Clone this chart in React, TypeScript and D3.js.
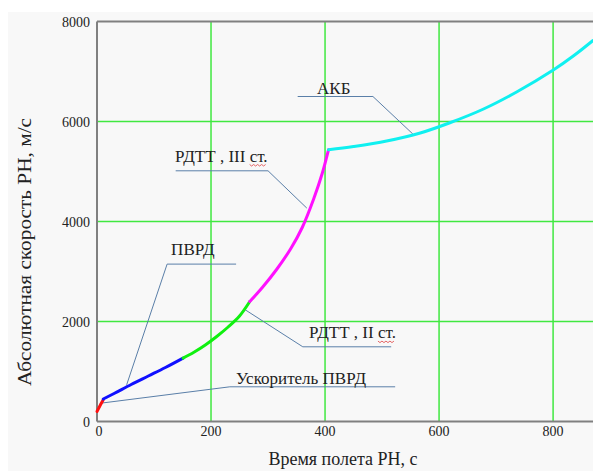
import React, { useEffect, useRef, useState } from 'react';
import * as d3 from 'd3';

// flight segments: time (s) and absolute velocity (m/s)
const redT = [0, 5, 11];
const redV = [200, 310, 434];
const blueT = [11, 30, 60, 90, 120, 151];
const blueV = [450, 560, 740, 910, 1080, 1268];
const greenT = [151, 170, 190, 210, 230, 250, 268];
const greenV = [1268, 1385, 1530, 1700, 1890, 2110, 2400];
const magentaT = [268, 290, 315, 340, 360, 380, 395, 406];
const magentaV = [2400, 2680, 3040, 3460, 3880, 4450, 4960, 5434];
const cyanT = [406, 450, 508, 567, 619, 678, 736, 801, 836, 870];
const cyanV = [5434, 5500, 5610, 5770, 5975, 6250, 6590, 7034, 7314, 7620];

const xTicks = [0, 200, 400, 600, 800];
const yTicks = [0, 2000, 4000, 6000, 8000];

// callouts: label, label anchor [t, v], leader polyline in [t, v]
const calloutLabels = ['АКБ', 'РДТТ , III ', 'ПВРД', 'Ускоритель ПВРД', 'РДТТ , II '];
const calloutTail = ['', 'ст.', '', '', 'ст.'];
const calloutText = [[386, 6554], [137, 5200], [130, 3334], [244, 754], [372, 1668]];
const calloutLines = [
  [[352, 6500], [484, 6500], [554, 5750]],
  [[138, 5014], [300, 5014], [368, 4268]],
  [[244, 3148], [123, 3148], [52, 734]],
  [[523, 694], [233, 694], [5, 364]],
  [[516, 1494], [361, 1494], [260, 2234]],
];

const W = 593;
const H = 473;
const serif = { fontFamily: '"Liberation Serif"' };

export default function App() {
  const tailRefs = useRef<(SVGTSpanElement | null)[]>([]);
  const [squiggles, setSquiggles] = useState<string[]>([]);

  const x = d3.scaleLinear().domain([0, 870]).range([97, 593]);
  const y = d3.scaleLinear().domain([0, 8000]).range([421.5, 21.5]);

  useEffect(() => {
    // spell-check style wavy underline under "ст."
    const out: string[] = [];
    tailRefs.current.forEach((el) => {
      if (!el) return;
      const b = el.getBBox();
      const yy = b.y + b.height - 1;
      let d = `M${b.x},${yy}`;
      for (let xx = b.x, k = 0; xx < b.x + b.width - 3; xx += 2, k++) {
        d += `L${xx + 2},${yy + (k % 2 === 0 ? 1.5 : 0)}`;
      }
      out.push(d);
    });
    setSquiggles(out);
  }, []);

  const line = d3
    .line<[number, number]>()
    .x((d) => x(d[0]))
    .y((d) => y(d[1]))
    .curve(d3.curveCatmullRom.alpha(0.5));

  const leader = d3
    .line<number[]>()
    .x((d) => x(d[0]))
    .y((d) => y(d[1]));

  const series = [
    { t: redT, v: redV, color: '#ff1010' },
    { t: blueT, v: blueV, color: '#1010ff' },
    { t: greenT, v: greenV, color: '#10f010' },
    { t: magentaT, v: magentaV, color: '#ff10ff' },
    { t: cyanT, v: cyanV, color: '#10f0f0' },
  ];

  const gridX = xTicks.filter((d) => d > 0);
  const gridY = yTicks.filter((d) => d > 0 && d < 8000);

  return (
    <svg
      width={W}
      height={H}
      style={{ position: 'absolute', left: 0, top: 0, background: '#fff' }}
    >
      <rect x={8} y={12} width={W - 8} height={H - 14} fill="#f8f8f8" />

      {/* grid */}
      {gridX.map((d) => (
        <line key={'gx' + d} x1={x(d)} x2={x(d)} y1={y(8000)} y2={y(0)} stroke="#40e840" strokeWidth={1.5} />
      ))}
      {gridY.map((d) => (
        <line key={'gy' + d} x1={x(0)} x2={W} y1={y(d)} y2={y(d)} stroke="#40e840" strokeWidth={1.5} />
      ))}

      {/* frame */}
      <line x1={x(0)} x2={W} y1={y(8000)} y2={y(8000)} stroke="#808080" strokeWidth={2} />
      <line x1={x(0)} x2={W} y1={y(0)} y2={y(0)} stroke="#808080" strokeWidth={2} />
      <line x1={x(0)} x2={x(0)} y1={y(8000)} y2={y(0)} stroke="#808080" strokeWidth={2} />

      {/* ticks */}
      {xTicks.map((d) => (
        <text key={'tx' + d} style={serif} x={x(d) + (d === 0 ? 2 : 0)} y={436} fontSize={14} textAnchor="middle" fill="#222">
          {d}
        </text>
      ))}
      {yTicks.map((d) => (
        <text key={'ty' + d} style={serif} x={90} y={y(d) + 5} fontSize={14} textAnchor="end" fill="#222">
          {d}
        </text>
      ))}

      {/* callout leaders */}
      {calloutLines.map((pts, i) => (
        <path key={'cl' + i} d={leader(pts) || ''} fill="none" stroke="#5a7fa8" strokeWidth={1} />
      ))}

      {/* curves */}
      {series.map((s, i) => (
        <path
          key={'s' + i}
          d={line(s.t.map((t, j) => [t, s.v[j]] as [number, number])) || ''}
          fill="none"
          stroke={s.color}
          strokeWidth={3}
          strokeLinecap="round"
        />
      ))}

      {/* callout labels */}
      {calloutLabels.map((lbl, i) => (
        <text
          key={'ct' + i}
          style={{ ...serif, whiteSpace: 'pre' }}
          x={x(calloutText[i][0])}
          y={y(calloutText[i][1])}
          fontSize={17}
          fill="#222"
        >
          {lbl}
          {calloutTail[i] && (
            <tspan ref={(el) => { tailRefs.current[i] = el; }}>{calloutTail[i]}</tspan>
          )}
        </text>
      ))}
      {squiggles.map((d, i) => (
        <path key={'sq' + i} d={d} fill="none" stroke="#e04040" strokeWidth={0.8} />
      ))}

      {/* axis titles */}
      <text style={serif} x={343} y={465} fontSize={18} textAnchor="middle" fill="#222">
        Время полета РН, с
      </text>
      <text
        style={serif}
        transform={`translate(31, 252) rotate(-90)`}
        fontSize={19}
        textAnchor="middle"
        textLength={268}
        lengthAdjust="spacingAndGlyphs"
        fill="#222"
      >
        Абсолютная скорость РН, м/с
      </text>
    </svg>
  );
}
